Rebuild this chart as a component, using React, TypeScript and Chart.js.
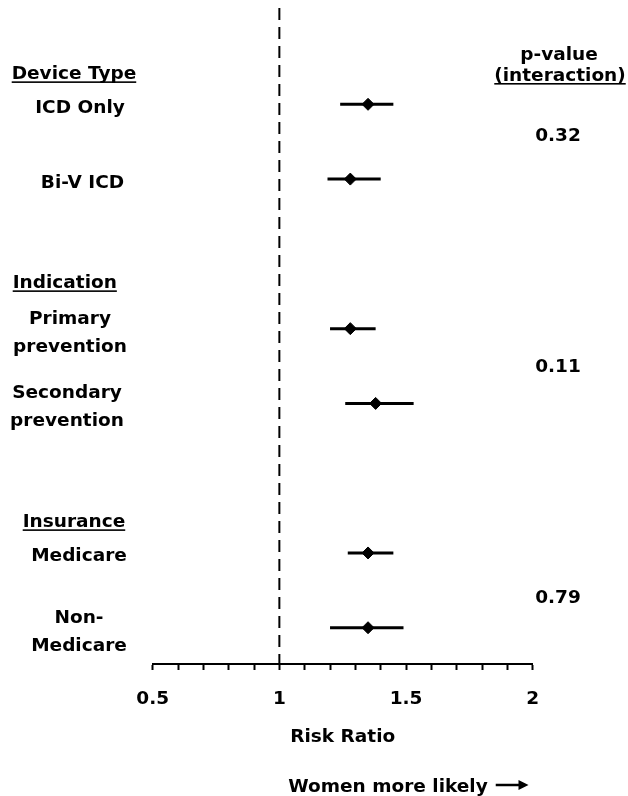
import React, { useEffect, useRef } from 'react';
import { Chart, registerables } from 'chart.js';

Chart.register(...registerables);

const FONT = '"DejaVu Sans", Verdana, sans-serif';
const FONT_SIZE = 18.5;

// ---------------- data ----------------
const subgroupLines: string[][] = [
  ['ICD Only'],
  ['Bi-V ICD'],
  ['Primary', 'prevention'],
  ['Secondary', 'prevention'],
  ['Medicare'],
  ['Non-', 'Medicare'],
];
const rowIndex = [0, 1, 3, 4, 6, 7];
const riskRatio = [1.35, 1.28, 1.28, 1.38, 1.35, 1.35];
const ciLower = [1.24, 1.19, 1.2, 1.26, 1.27, 1.2];
const ciUpper = [1.45, 1.4, 1.38, 1.53, 1.45, 1.49];
const groupHeaders = ['Device Type', 'Indication', 'Insurance'];
const pValues = ['0.32', '0.11', '0.79'];
const referenceValue = 1;
const xMin = 0.5;
const xMax = 2;
const xStep = 0.1;
const xLabelStep = 0.5;
const xTitle = 'Risk Ratio';
const pHeader = ['p-value', '(interaction)'];
const directionNote = 'Women more likely';

// ---------------- layout (text placement) ----------------
const LABEL_CX = [80, 82.5, 70, 67, 79, 79];
const HEADER_X = [11.7, 12.7, 22.7];
const HEADER_ROW = [-0.334, 2.461, 5.657];
const PVALUE_ROW = [0.487, 3.576, 6.666];
const PVALUE_CX = 558;
const Y_MIN = -1.288;
const Y_MAX = 7.485;

const textPlugin = {
  id: 'forestText',
  afterDraw(chart: any) {
    const { ctx } = chart;
    const y = chart.scales.y;
    ctx.save();
    ctx.fillStyle = '#000';
    ctx.strokeStyle = '#000';
    ctx.font = `bold ${FONT_SIZE}px ${FONT}`;
    ctx.textBaseline = 'alphabetic';

    // subgroup labels
    ctx.textAlign = 'center';
    subgroupLines.forEach((lines, i) => {
      const cy = y.getPixelForValue(rowIndex[i]);
      const cx = LABEL_CX[i];
      if (lines.length === 1) {
        ctx.fillText(lines[0], cx, cy + 8.5);
      } else {
        ctx.fillText(lines[0], cx, cy - 5);
        ctx.fillText(lines[1], cx, cy + 23);
      }
    });

    // group headers (underlined)
    ctx.textAlign = 'left';
    groupHeaders.forEach((h, i) => {
      const by = y.getPixelForValue(HEADER_ROW[i]);
      const hx = HEADER_X[i];
      ctx.fillText(h, hx, by);
      const w = ctx.measureText(h).width;
      ctx.fillRect(hx, by + 2, w, 1.6);
    });

    // p-value header
    ctx.textAlign = 'center';
    ctx.fillText(pHeader[0], 559, 60);
    ctx.fillText(pHeader[1], 560, 80.7);
    const iw = ctx.measureText(pHeader[1]).width;
    ctx.fillRect(560 - iw / 2, 83, iw, 1.6);

    // p-values
    pValues.forEach((p, i) => {
      ctx.fillText(p, PVALUE_CX, y.getPixelForValue(PVALUE_ROW[i]));
    });

    // direction note with arrow
    ctx.textAlign = 'left';
    ctx.fillText(directionNote, 288.3, 791.7);
    const tw = ctx.measureText(directionNote).width;
    const ax0 = 288.3 + tw + 8;
    const ax1 = 528.5;
    const ay = 785;
    ctx.lineWidth = 2.5;
    ctx.beginPath();
    ctx.moveTo(ax0, ay);
    ctx.lineTo(ax1 - 8, ay);
    ctx.stroke();
    ctx.beginPath();
    ctx.moveTo(ax1, ay);
    ctx.lineTo(ax1 - 10, ay - 5);
    ctx.lineTo(ax1 - 10, ay + 5);
    ctx.closePath();
    ctx.fill();
    ctx.restore();
  },
};

export default function App() {
  const canvasRef = useRef<HTMLCanvasElement | null>(null);

  useEffect(() => {
    const canvas = canvasRef.current;
    if (!canvas) return;

    const pointData = riskRatio.map((v, i) => ({ x: v, y: rowIndex[i] }));
    const whiskerSets = rowIndex.map((r, i) => ({
      label: 'ci' + i,
      data: [
        { x: ciLower[i], y: r },
        { x: ciUpper[i], y: r },
      ],
      showLine: true,
      borderColor: '#000',
      borderWidth: 3,
      pointRadius: 0,
      fill: false,
    }));

    const chart = new Chart(canvas, {
      type: 'scatter',
      data: {
        datasets: [
          {
            label: 'Risk ratio',
            data: pointData,
            pointStyle: 'rectRot',
            pointRadius: 6,
            pointBackgroundColor: '#000',
            pointBorderColor: '#000',
            pointBorderWidth: 1,
          },
          ...whiskerSets,
          {
            label: 'reference',
            data: [
              { x: referenceValue, y: Y_MIN },
              { x: referenceValue, y: Y_MAX },
            ],
            showLine: true,
            borderColor: '#000',
            borderWidth: 2,
            borderDash: [12, 7],
            pointRadius: 0,
            fill: false,
          },
        ] as any,
      },
      options: {
        animation: false,
        responsive: false,
        maintainAspectRatio: false,
        layout: { padding: { left: 152.7, right: 95.3, top: 8, bottom: 0 } },
        plugins: {
          legend: { display: false },
          tooltip: { enabled: false },
        },
        scales: {
          x: {
            type: 'linear',
            min: xMin,
            max: xMax,
            afterFit: (scale: any) => {
              scale.height = 132;
            },
            border: { display: true, color: '#000', width: 2 },
            grid: {
              drawOnChartArea: false,
              drawTicks: true,
              tickLength: 6,
              tickColor: '#000',
              tickWidth: 2,
            },
            ticks: {
              stepSize: xStep,
              autoSkip: false,
              maxRotation: 0,
              padding: 18,
              color: '#000',
              font: { family: FONT, size: FONT_SIZE, weight: 'bold' },
              callback: (value: any) => {
                const v = Number(value);
                const k = v / xLabelStep;
                if (Math.abs(k - Math.round(k)) < 1e-6) {
                  return String(Math.round(v * 10) / 10);
                }
                return '';
              },
            },
            title: {
              display: true,
              text: xTitle,
              color: '#000',
              font: { family: FONT, size: FONT_SIZE, weight: 'bold' },
              padding: { top: 0, bottom: 47.3 },
            },
          },
          y: {
            type: 'linear',
            display: false,
            reverse: true,
            min: Y_MIN,
            max: Y_MAX,
          },
        },
      } as any,
      plugins: [textPlugin],
    });

    return () => chart.destroy();
  }, []);

  return (
    <div style={{ position: 'absolute', left: 0, top: 0, width: 628, height: 796, background: '#fff' }}>
      <canvas ref={canvasRef} width={628} height={796} />
    </div>
  );
}
